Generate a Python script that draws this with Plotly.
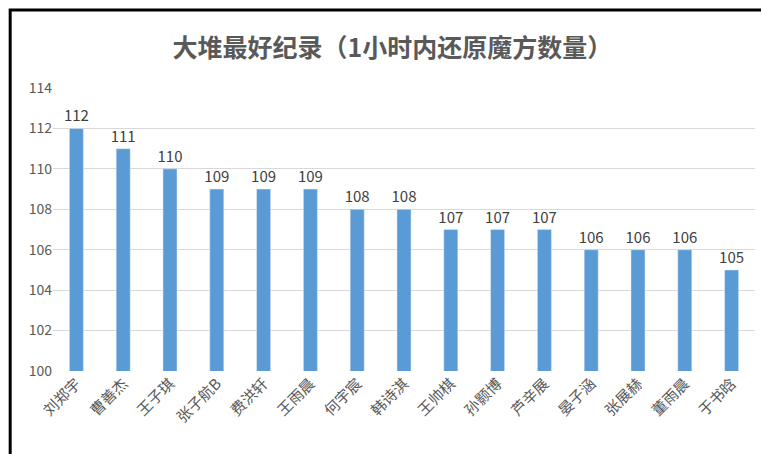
import plotly.graph_objects as go

names = ["刘郑宇", "曹善杰", "王子琪", "张子航B", "费洪轩", "王雨晨", "何宇宸", "韩诗淇",
         "王帅棋", "孙颢博", "芦辛展", "晏子涵", "张展赫", "董雨晨", "于书晗"]
scores = [112, 111, 110, 109, 109, 109, 108, 108, 107, 107, 107, 106, 106, 106, 105]

fig = go.Figure(go.Bar(
    x=names, y=scores, text=scores, textposition="outside", constraintext="none",
    marker_color="#5b9bd5", width=0.3,
    textfont=dict(size=15, color="#404040"), cliponaxis=False,
))
fig.update_layout(
    title=dict(text="<b>大堆最好纪录（1小时内还原魔方数量）</b>", x=0.5, y=0.93, xanchor="center",
               font=dict(size=25, color="#595959", family="Noto Sans CJK SC")),
    width=769, height=454, plot_bgcolor="white", paper_bgcolor="white",
    margin=dict(l=45, r=22, t=80, b=91, autoexpand=False),
    font=dict(family="Noto Sans CJK SC", color="#595959"),
    showlegend=False,
    shapes=[dict(type="rect", xref="paper", yref="paper", x0=-0.061, x1=1.028, y0=-0.314, y1=1.276,
                 line=dict(color="black", width=3))],
)
fig.update_xaxes(tickangle=-45, tickfont=dict(size=15, color="#595959"), showline=False, automargin=False)
fig.update_yaxes(range=[100, 114], dtick=2, gridcolor="#d9d9d9", zeroline=False, automargin=False,
                 tickfont=dict(size=14, color="#595959"))
fig.write_html("out.html")
